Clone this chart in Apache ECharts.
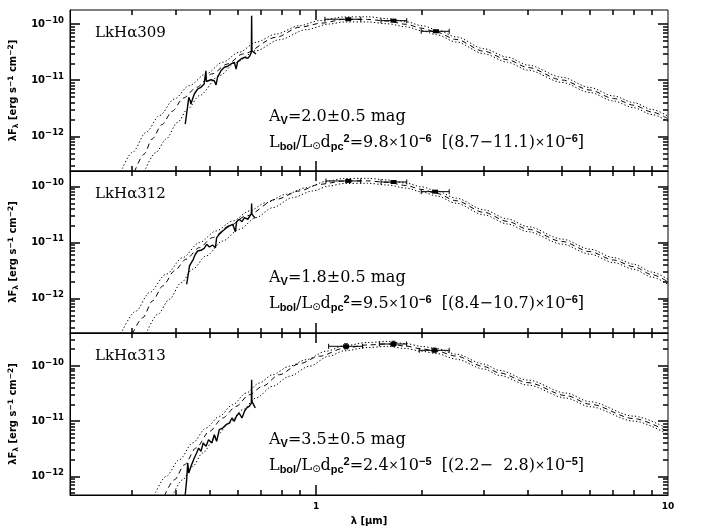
<!DOCTYPE html>
<html>
<head>
<meta charset="utf-8">
<script src="https://cdn.jsdelivr.net/npm/echarts@6/dist/echarts.min.js"></script>
<style>
  html, body { margin: 0; background: #fff; }
  #chart { width: 701px; height: 532px; }
</style>
</head>
<body>
<div id="chart"></div>
<script>
// wavelength [um], lambda*F_lambda [erg s^-1 cm^-2]
var spec309 = [[0.425,1.68e-12],[0.432,3.56e-12],[0.435,5.02e-12],[0.439,4.38e-12],[0.441,3.82e-12],[0.451,5.75e-12],[0.461,7.06e-12],[0.471,7.57e-12],[0.481,8.67e-12],[0.485,8.9e-12],[0.4865,1.49e-11],[0.488,9.6e-12],[0.492,9.91e-12],[0.503,1.03e-11],[0.514,9.91e-12],[0.520,8.32e-12],[0.525,1.14e-11],[0.537,1.49e-11],[0.549,1.72e-11],[0.561,1.79e-11],[0.573,1.97e-11],[0.586,2.11e-11],[0.593,1.60e-11],[0.599,2.16e-11],[0.612,2.42e-11],[0.626,2.59e-11],[0.640,2.48e-11],[0.649,2.76e-11],[0.655,3.18e-11],[0.6563,1.42e-10],[0.6575,3.39e-11],[0.675,2.96e-11]];
var best309 = [[0.305,2.38e-13],[0.325,4.92e-13],[0.342,9.10e-13],[0.365,1.64e-12],[0.390,2.83e-12],[0.420,4.89e-12],[0.458,7.57e-12],[0.506,1.31e-11],[0.561,1.97e-11],[0.619,2.96e-11],[0.770,5.87e-11],[0.897,8.85e-11],[1.04,1.05e-10],[1.2,1.22e-10],[1.4,1.22e-10],[1.6,1.14e-10],[1.8,1.00e-10],[2.0,8.51e-11],[2.2,7.24e-11],[2.5,5.37e-11],[3.0,3.31e-11],[3.5,2.34e-11],[4.0,1.70e-11],[5.0,1.02e-11],[6.0,6.76e-12],[7.0,4.79e-12],[8.0,3.63e-12],[9.0,2.75e-12],[10,2.09e-12]];
var lowAv309 = [[0.279,2.38e-13],[0.301,5.27e-13],[0.329,1.20e-12],[0.359,2.37e-12],[0.396,4.69e-12],[0.436,8.09e-12],[0.487,1.31e-11],[0.543,2.11e-11],[0.605,3.18e-11],[0.675,4.79e-11],[0.770,6.71e-11],[0.897,9.44e-11],[1.022,1.16e-10],[1.2,1.35e-10],[1.4,1.36e-10],[1.6,1.26e-10],[1.8,1.11e-10],[2.0,9.44e-11],[2.2,8.04e-11],[2.5,5.96e-11],[3.0,3.67e-11],[3.5,2.60e-11],[4.0,1.88e-11],[5.0,1.14e-11],[6.0,7.50e-12],[7.0,5.31e-12],[8.0,4.03e-12],[9.0,3.05e-12],[10,2.32e-12]];
var highAv309 = [[0.325,2.38e-13],[0.351,5.27e-13],[0.375,9.10e-13],[0.404,1.80e-12],[0.432,3.11e-12],[0.466,5.37e-12],[0.531,1.22e-11],[0.593,2.11e-11],[0.675,3.39e-11],[0.787,5.32e-11],[0.937,8.02e-11],[1.09,1.01e-10],[1.2,1.10e-10],[1.4,1.10e-10],[1.6,1.02e-10],[1.8,9.02e-11],[2.0,7.67e-11],[2.2,6.53e-11],[2.5,4.84e-11],[3.0,2.99e-11],[3.5,2.11e-11],[4.0,1.53e-11],[5.0,9.23e-12],[6.0,6.10e-12],[7.0,4.32e-12],[8.0,3.27e-12],[9.0,2.48e-12],[10,1.88e-12]];
// [lambda, lambda_lo, lambda_hi, flux, flux_lo, flux_hi]
var phot309 = [[1.235,1.06,1.34,1.23e-10,1.19e-10,1.27e-10],[1.66,1.53,1.81,1.16e-10,1.13e-10,1.19e-10],[2.19,1.99,2.39,7.5e-11,7.3e-11,7.7e-11]];

var spec312 = [[0.429,1.81e-12],[0.435,3.13e-12],[0.437,3.84e-12],[0.441,3.58e-12],[0.448,5.05e-12],[0.454,6.21e-12],[0.461,7.11e-12],[0.471,7.31e-12],[0.481,7.94e-12],[0.489,9.35e-12],[0.498,8.38e-12],[0.508,9.10e-12],[0.518,8.15e-12],[0.522,1.23e-11],[0.531,1.41e-11],[0.543,1.62e-11],[0.555,1.81e-11],[0.567,1.99e-11],[0.580,2.13e-11],[0.590,1.57e-11],[0.595,2.37e-11],[0.605,2.62e-11],[0.616,2.37e-11],[0.626,2.80e-11],[0.640,2.62e-11],[0.649,3.00e-11],[0.655,3.30e-11],[0.6563,5.01e-11],[0.6575,3.24e-11],[0.672,2.73e-11]];
var best312 = [[0.301,2.37e-13],[0.322,4.58e-13],[0.343,9.10e-13],[0.367,1.69e-12],[0.396,3.13e-12],[0.427,5.05e-12],[0.466,8.15e-12],[0.508,1.23e-11],[0.567,1.99e-11],[0.633,3.00e-11],[0.770,5.94e-11],[0.897,8.38e-11],[1.022,1.10e-10],[1.2,1.26e-10],[1.4,1.27e-10],[1.6,1.19e-10],[1.8,1.05e-10],[2.0,8.91e-11],[2.2,7.59e-11],[2.5,5.62e-11],[3.0,3.47e-11],[3.5,2.40e-11],[4.0,1.74e-11],[5.0,1.05e-11],[6.0,6.92e-12],[7.0,4.90e-12],[8.0,3.72e-12],[9.0,2.69e-12],[10,2.00e-12]];
var lowAv312 = [[0.279,2.37e-13],[0.308,6.03e-13],[0.336,1.28e-12],[0.375,2.73e-12],[0.418,5.40e-12],[0.466,1.00e-11],[0.520,1.62e-11],[0.580,2.44e-11],[0.646,3.68e-11],[0.721,5.18e-11],[0.822,7.31e-11],[0.937,9.59e-11],[1.068,1.24e-10],[1.2,1.40e-10],[1.4,1.41e-10],[1.6,1.32e-10],[1.8,1.16e-10],[2.0,9.89e-11],[2.2,8.41e-11],[2.5,6.24e-11],[3.0,3.85e-11],[3.5,2.66e-11],[4.0,1.93e-11],[5.0,1.16e-11],[6.0,7.67e-12],[7.0,5.43e-12],[8.0,4.12e-12],[9.0,2.99e-12],[10,2.21e-12]];
var highAv312 = [[0.329,2.37e-13],[0.355,5.26e-13],[0.383,9.75e-13],[0.414,1.93e-12],[0.446,3.35e-12],[0.487,5.78e-12],[0.543,1.07e-11],[0.605,1.73e-11],[0.675,2.80e-11],[0.753,4.22e-11],[0.858,6.37e-11],[0.978,8.38e-11],[1.09,1.03e-10],[1.2,1.14e-10],[1.4,1.15e-10],[1.6,1.07e-10],[1.8,9.44e-11],[2.0,8.04e-11],[2.2,6.84e-11],[2.5,5.07e-11],[3.0,3.13e-11],[3.5,2.16e-11],[4.0,1.57e-11],[5.0,9.44e-12],[6.0,6.24e-12],[7.0,4.42e-12],[8.0,3.35e-12],[9.0,2.43e-12],[10,1.80e-12]];
var phot312 = [[1.235,1.067,1.34,1.265e-10,1.23e-10,1.30e-10],[1.66,1.53,1.81,1.213e-10,1.18e-10,1.25e-10],[2.18,1.99,2.39,8.15e-11,7.9e-11,8.4e-11]];

var spec313 = [[0.425,4.71e-13],[0.429,8.79e-13],[0.432,1.76e-12],[0.435,1.16e-12],[0.441,1.53e-12],[0.451,2.17e-12],[0.458,2.67e-12],[0.464,3.29e-12],[0.471,2.86e-12],[0.478,4.06e-12],[0.487,3.53e-12],[0.495,4.65e-12],[0.506,4.06e-12],[0.514,5.73e-12],[0.522,4.35e-12],[0.531,7.06e-12],[0.543,7.57e-12],[0.555,8.69e-12],[0.567,9.31e-12],[0.577,1.15e-11],[0.586,1.00e-11],[0.595,1.26e-11],[0.605,1.41e-11],[0.616,1.15e-11],[0.626,1.51e-11],[0.635,1.74e-11],[0.646,1.87e-11],[0.655,2.14e-11],[0.6563,5.66e-11],[0.6575,2.30e-11],[0.672,1.74e-11]];
var best313 = [[0.371,4.52e-13],[0.396,8.79e-13],[0.423,1.64e-12],[0.456,3.29e-12],[0.498,6.59e-12],[0.543,1.15e-11],[0.593,1.87e-11],[0.646,3.03e-11],[0.705,4.30e-11],[0.787,6.97e-11],[0.897,1.10e-10],[1.022,1.50e-10],[1.2,2.09e-10],[1.4,2.40e-10],[1.6,2.51e-10],[1.8,2.29e-10],[2.0,2.04e-10],[2.2,1.86e-10],[2.5,1.51e-10],[3.0,9.77e-11],[3.32,7.50e-11],[4.0,5.01e-11],[5.13,2.92e-11],[6.0,2.04e-11],[8.0,1.12e-11],[10,6.46e-12]];
var lowAv313 = [[0.347,4.52e-13],[0.375,1.01e-12],[0.409,2.02e-12],[0.446,4.06e-12],[0.487,7.57e-12],[0.531,1.23e-11],[0.580,2.00e-11],[0.633,3.25e-11],[0.690,4.93e-11],[0.753,6.97e-11],[0.840,9.89e-11],[0.937,1.30e-10],[1.068,1.85e-10],[1.2,2.32e-10],[1.4,2.66e-10],[1.6,2.79e-10],[1.8,2.54e-10],[2.0,2.26e-10],[2.2,2.07e-10],[2.5,1.64e-10],[3.0,1.08e-10],[3.32,8.32e-11],[4.0,5.56e-11],[5.13,3.24e-11],[6.0,2.26e-11],[8.0,1.24e-11],[10,7.33e-12]];
var highAv313 = [[0.391,4.52e-13],[0.418,8.79e-13],[0.446,1.53e-12],[0.476,2.67e-12],[0.520,5.36e-12],[0.567,9.31e-12],[0.619,1.62e-11],[0.675,2.64e-11],[0.753,4.30e-11],[0.840,6.52e-11],[0.957,9.89e-11],[1.09,1.51e-10],[1.2,1.88e-10],[1.4,2.16e-10],[1.6,2.26e-10],[1.8,2.07e-10],[2.0,1.84e-10],[2.2,1.68e-10],[2.5,1.33e-10],[3.0,8.81e-11],[3.32,6.76e-11],[4.0,4.52e-11],[5.13,2.63e-11],[6.0,1.84e-11],[8.0,1.01e-11],[10,5.82e-12]];
var phot313 = [[1.217,1.086,1.356,2.27e-10,2.04e-10,2.52e-10],[1.66,1.513,1.808,2.50e-10,2.27e-10,2.80e-10],[2.17,1.965,2.39,1.92e-10,1.77e-10,2.11e-10]];

var starNames = ['LkHα309', 'LkHα312', 'LkHα313'];
var avLabels = ['2.0±0.5', '1.8±0.5', '3.5±0.5'];
var lumBest = ['9.8', '9.5', '2.4'];
var lumRange = ['(8.7−11.1)', '(8.4−10.7)', '(2.2−  2.8)'];
var lumExp = ['−6', '−6', '−5'];

var xRange = [0.2, 10];
var yRanges = [[2.455e-13, 1.795e-10], [2.44e-13, 1.905e-10], [4.66e-13, 3.95e-10]];
var xMajorTicks = [1];
var xMinorTicks = [0.3, 0.4, 0.5, 0.6, 0.7, 0.8, 0.9, 2, 3, 4, 5, 6, 7, 8, 9];
var xTickLabels = [1, 10];
var yMajorTicks = [1e-13, 1e-12, 1e-11, 1e-10];
var yMinorTicks = [];
for (var n = -13; n <= -10; n++) {
  for (var k = 2; k <= 9; k++) yMinorTicks.push(k * Math.pow(10, n));
}

var panels = [
  { spec: spec309, best: best309, lowAv: lowAv309, highAv: highAv309, phot: phot309 },
  { spec: spec312, best: best312, lowAv: lowAv312, highAv: highAv312, phot: phot312 },
  { spec: spec313, best: best313, lowAv: lowAv313, highAv: highAv313, phot: phot313 }
];
var panelTop = [10, 171, 333];
var panelHeight = [161, 162, 162];

var L = Math.log10;
function toLog(p) { return [L(p[0]), L(p[1])]; }
var black = '#000';
var sans = 'DejaVu Sans';

function xAxis(p) {
  var labels = p === 2;
  var ax = {
    type: 'value', gridIndex: p, position: 'bottom',
    min: L(xRange[0]), max: L(xRange[1]),
    axisLine: { show: true, onZero: false, lineStyle: { color: black, width: 1 } },
    axisTick: { show: false },
    axisLabel: {
      show: labels, customValues: xTickLabels.map(L), margin: 7,
      formatter: function (v) { return String(Math.round(Math.pow(10, v))); },
      color: black, fontFamily: sans, fontWeight: 'bold', fontSize: 9
    },
    splitLine: { show: false }
  };
  if (labels) {
    ax.name = 'λ [μm]';
    ax.nameLocation = 'middle';
    ax.nameGap = 21;
    ax.nameTextStyle = { color: black, fontFamily: sans, fontWeight: 'bold', fontSize: 10 };
  }
  return ax;
}

function yAxis(p) {
  var lo = L(yRanges[p][0]), hi = L(yRanges[p][1]);
  return {
    type: 'value', gridIndex: p, position: 'left', min: lo, max: hi,
    axisLine: { show: true, onZero: false, lineStyle: { color: black, width: 1 } },
    axisTick: { show: false },
    axisLabel: {
      show: true, margin: 6,
      customValues: yMajorTicks.map(L).filter(function (v) { return v >= lo && v <= hi; }),
      formatter: function (v) { return '{b|10}{e|−' + Math.abs(Math.round(v)) + '}'; },
      rich: {
        b: { color: black, fontFamily: sans, fontWeight: 'bold', fontSize: 10 },
        e: { color: black, fontFamily: sans, fontWeight: 'bold', fontSize: 8.5, padding: [0, 0, 7, 0] }
      }
    },
    splitLine: { show: false },
    name: '{t|λF}{s|λ}{t| [erg s}{u|−1}{t| cm}{u|−2}{t|]}',
    nameLocation: 'middle',
    nameGap: 43,
    nameTextStyle: {
      color: black, fontFamily: sans, fontWeight: 'bold', fontSize: 10,
      rich: {
        t: { color: black, fontFamily: sans, fontWeight: 'bold', fontSize: 10 },
        s: { color: black, fontFamily: sans, fontWeight: 'bold', fontSize: 7.5, padding: [5, 0, 0, 0] },
        u: { color: black, fontFamily: sans, fontWeight: 'bold', fontSize: 7.5, padding: [0, 0, 6, 0] }
      }
    }
  };
}

function lineSeries(p, data, dash, width, smooth, z) {
  return {
    type: 'line', xAxisIndex: p, yAxisIndex: p,
    data: data.map(toLog), symbol: 'none', smooth: smooth, smoothMonotone: 'x',
    lineStyle: { color: black, width: width, type: dash },
    silent: true, z: z
  };
}

function photSeries(p, rows) {
  return {
    type: 'custom', xAxisIndex: p, yAxisIndex: p, z: 5, silent: true,
    data: rows.map(function (r) { return r.map(L); }),
    encode: { x: [0, 1, 2], y: [3, 4, 5] },
    renderItem: function (params, api) {
      var c = api.coord([api.value(0), api.value(3)]);
      var l = api.coord([api.value(1), api.value(3)]);
      var r = api.coord([api.value(2), api.value(3)]);
      var b = api.coord([api.value(0), api.value(4)]);
      var t = api.coord([api.value(0), api.value(5)]);
      function seg(x1, y1, x2, y2) {
        return { type: 'line', shape: { x1: x1, y1: y1, x2: x2, y2: y2 }, style: { stroke: black, lineWidth: 1 } };
      }
      return {
        type: 'group',
        children: [
          seg(l[0], l[1], r[0], r[1]),
          seg(l[0], l[1] - 2.5, l[0], l[1] + 2.5),
          seg(r[0], r[1] - 2.5, r[0], r[1] + 2.5),
          seg(b[0], b[1], t[0], t[1]),
          seg(b[0] - 2, b[1], b[0] + 2, b[1]),
          seg(t[0] - 2, t[1], t[0] + 2, t[1]),
          { type: 'rect', shape: { x: c[0] - 3, y: c[1] - 2, width: 6, height: 4 }, style: { fill: black } }
        ]
      };
    }
  };
}

var serif = 'DejaVu Serif';
var subFont = 'Liberation Sans';
var richIn = {
  m: { fill: black, fontFamily: serif, fontSize: 16 },
  s: { fill: black, fontFamily: subFont, fontWeight: 'bold', fontSize: 11, padding: [7, 0, 0, 0] },
  u: { fill: black, fontFamily: subFont, fontWeight: 'bold', fontSize: 11, padding: [0, 0, 8, 0] },
  sun: { fill: black, fontFamily: sans, fontSize: 10, padding: [6, 0, 0, 0] },
  x: { fill: black, fontFamily: sans, fontSize: 12 }
};

var grids = [], xAxes = [], yAxes = [], series = [], graphics = [];
panels.forEach(function (pn, p) {
  grids.push({
    left: 70, width: 598, top: panelTop[p], height: panelHeight[p],
    show: true, borderColor: black, borderWidth: 1, backgroundColor: 'transparent',
    containLabel: false, outerBoundsMode: 'none'
  });
  xAxes.push(xAxis(p));
  yAxes.push(yAxis(p));
  series.push(
    lineSeries(p, pn.lowAv, [1.3, 2.2], 1, 0.3, 2),
    lineSeries(p, pn.highAv, [1.3, 2.2], 1, 0.3, 2),
    lineSeries(p, pn.best, [5, 4], 1, 0.3, 2),
    lineSeries(p, pn.spec, 'solid', 1.4, false, 3),
    photSeries(p, pn.phot)
  );
  var top = panelTop[p];
  graphics.push(
    { type: 'text', x: 95, y: top + 23, style: { text: starNames[p], fill: black, fontFamily: serif, fontSize: 15, verticalAlign: 'middle' } },
    { type: 'text', x: 269, y: top + 107, style: { text: '{m|A}{s|V}{m|=' + avLabels[p] + ' mag}', rich: richIn, fill: black, fontFamily: serif, fontSize: 16, verticalAlign: 'middle' } },
    { type: 'text', x: 269, y: top + 133, style: {
      text: '{m|L}{s|bol}{m|/L}{sun|⊙}{m|d}{s|pc}{u|2}{m|=' + lumBest[p] + '}{x|×}{m|10}{u|' + lumExp[p] + '}{m|  [' + lumRange[p] + '}{x|×}{m|10}{u|' + lumExp[p] + '}{m|]}',
      rich: richIn, fill: black, fontFamily: serif, fontSize: 16, verticalAlign: 'middle' } }
  );
});

var chart = echarts.init(document.getElementById('chart'));
chart.setOption({
  backgroundColor: '#fff',
  animation: false,
  grid: grids,
  xAxis: xAxes,
  yAxis: yAxes,
  series: series,
  graphic: graphics
});

// inward ticks on all four sides of every panel, placed through each panel's axes
var tickEls = [];
panels.forEach(function (pn, p) {
  var x0 = L(xRange[0]), x1 = L(xRange[1]);
  var y0 = L(yRanges[p][0]), y1 = L(yRanges[p][1]);
  function px(v) { return chart.convertToPixel({ xAxisIndex: p }, v); }
  function py(v) { return chart.convertToPixel({ yAxisIndex: p }, v); }
  var left = px(x0), right = px(x1), bottom = py(y0), top = py(y1);
  function tickLine(a, b, c, d) {
    tickEls.push({ type: 'line', z: 100, silent: true,
      shape: { x1: a, y1: b, x2: c, y2: d },
      style: { stroke: black, lineWidth: 1.5 } });
  }
  function xt(v, len) {
    var xx = Math.round(px(v));
    tickLine(xx, bottom, xx, bottom - len);
    tickLine(xx, top, xx, top + len);
  }
  function yt(v, len) {
    if (!(v > y0 && v < y1)) return;
    var yy = Math.round(py(v));
    tickLine(left, yy, left + len, yy);
    tickLine(right, yy, right - len, yy);
  }
  xMajorTicks.forEach(function (v) { xt(L(v), 10); });
  xMinorTicks.forEach(function (v) { xt(L(v), 5); });
  yMajorTicks.forEach(function (v) { yt(L(v), 10); });
  yMinorTicks.forEach(function (v) { yt(L(v), 5); });
});
chart.setOption({ graphic: graphics.concat(tickEls) });
</script>
</body>
</html>
